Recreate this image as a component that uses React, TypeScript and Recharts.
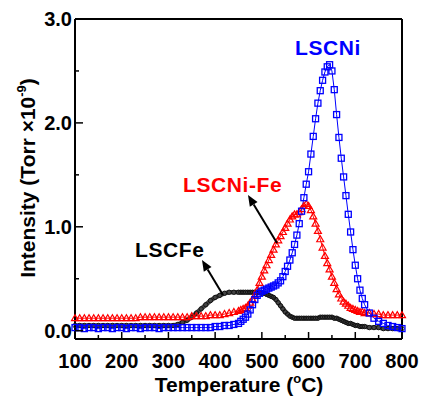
import React from 'react';
import { LineChart, Line, XAxis, YAxis, ReferenceLine } from 'recharts';

// temperature (°C) sample points
const temps = [
  100, 110, 120, 130, 140, 150, 160, 170, 180, 190, 200, 210, 220, 230, 240, 250, 260, 270,
  280, 290, 300, 310, 320, 330, 340, 350, 360, 370, 380, 390, 400, 410, 420, 430, 440, 450,
  455, 460, 465, 470, 475, 480, 485, 490, 495, 500, 505, 510, 515, 520, 525, 530, 535, 540,
  545, 550, 555, 560, 565, 570, 575, 580, 585, 590, 595, 600, 605, 610, 615, 620, 625, 630,
  635, 640, 645, 650, 655, 660, 665, 670, 675, 680, 685, 690, 695, 700, 705, 710, 715, 720,
  730, 740, 750, 760, 770, 780, 790, 800,
];

const lscni = [
  0.03, 0.03, 0.02, 0.03, 0.03, 0.02, 0.03, 0.03, 0.02, 0.03, 0.03, 0.02, 0.03, 0.03, 0.02, 0.03, 0.03, 0.03,
  0.02, 0.03, 0.03, 0.03, 0.03, 0.03, 0.03, 0.03, 0.03, 0.03, 0.03, 0.03, 0.04, 0.04, 0.05, 0.05, 0.06, 0.07,
  0.09, 0.11, 0.13, 0.16, 0.2, 0.25, 0.3, 0.34, 0.36, 0.38, 0.39, 0.4, 0.41, 0.42, 0.43, 0.44, 0.46, 0.48,
  0.52, 0.57, 0.62, 0.68, 0.75, 0.83, 0.92, 1.03, 1.15, 1.28, 1.41, 1.53, 1.7, 1.87, 2.04, 2.19, 2.31, 2.41,
  2.49, 2.54, 2.56, 2.5, 2.32, 2.08, 1.86, 1.66, 1.48, 1.3, 1.12, 0.95, 0.78, 0.63, 0.5, 0.39, 0.31, 0.25,
  0.17, 0.12, 0.09, 0.07, 0.05, 0.04, 0.03, 0.02,
];

const lscniFe = [
  0.12, 0.12, 0.12, 0.12, 0.12, 0.12, 0.12, 0.12, 0.12, 0.12, 0.12, 0.12, 0.12, 0.12, 0.13, 0.13, 0.13, 0.13,
  0.13, 0.13, 0.13, 0.13, 0.13, 0.13, 0.13, 0.14, 0.14, 0.14, 0.14, 0.15, 0.15, 0.15, 0.16, 0.17, 0.18, 0.19,
  0.2, 0.21, 0.22, 0.24, 0.27, 0.3, 0.34, 0.39, 0.46, 0.52, 0.58, 0.63, 0.68, 0.73, 0.78, 0.83, 0.87, 0.91,
  0.95, 0.99, 1.03, 1.07, 1.1, 1.12, 1.12, 1.14, 1.17, 1.2, 1.22, 1.2, 1.16, 1.1, 1.03, 0.96, 0.88, 0.8,
  0.72, 0.65, 0.59, 0.52, 0.46, 0.4, 0.35, 0.31, 0.28, 0.26, 0.24, 0.22, 0.21, 0.2, 0.19, 0.18, 0.18, 0.17,
  0.17, 0.16, 0.16, 0.15, 0.15, 0.15, 0.15, 0.15,
];

const lscfe = [
  0.05, 0.05, 0.05, 0.05, 0.05, 0.05, 0.05, 0.05, 0.05, 0.05, 0.05, 0.05, 0.05, 0.05, 0.05, 0.05, 0.05, 0.05,
  0.05, 0.05, 0.05, 0.05, 0.06, 0.08, 0.1, 0.13, 0.17, 0.21, 0.25, 0.29, 0.32, 0.34, 0.36, 0.37, 0.37, 0.37,
  0.37, 0.37, 0.37, 0.37, 0.37, 0.37, 0.37, 0.37, 0.37, 0.36, 0.36, 0.35, 0.34, 0.33, 0.32, 0.3, 0.27, 0.24,
  0.21, 0.18, 0.16, 0.14, 0.13, 0.12, 0.12, 0.12, 0.12, 0.12, 0.12, 0.12, 0.12, 0.12, 0.12, 0.12, 0.13, 0.13,
  0.13, 0.13, 0.13, 0.13, 0.12, 0.12, 0.11, 0.1, 0.09, 0.08, 0.07, 0.07, 0.06, 0.05, 0.05, 0.04, 0.04, 0.04,
  0.03, 0.03, 0.03, 0.02, 0.02, 0.02, 0.02, 0.02,
];

const xTicks = [100, 150, 200, 250, 300, 350, 400, 450, 500, 550, 600, 650, 700, 750, 800];
const yTicks = [0, 0.5, 1, 1.5, 2, 2.5, 3];

const data = temps.map((t, i) => ({ t, lscni: lscni[i], lscniFe: lscniFe[i], lscfe: lscfe[i] }));

const FONT = '"Liberation Sans", Arial, sans-serif';

const XTick = (props: any) => {
  const { x, y, payload } = props;
  const major = payload.value % 100 === 0;
  return (
    <g>
      <line x1={x} x2={x} y1={y} y2={y - (major ? 7 : 4)} stroke="#000" strokeWidth={1.5} />
      {major && (
        <text x={x} y={y + 29} textAnchor="middle" fontFamily={FONT} fontWeight="bold" fontSize={20} fill="#000">
          {payload.value}
        </text>
      )}
    </g>
  );
};

const YTick = (props: any) => {
  const { x, y, payload } = props;
  const major = Number.isInteger(payload.value);
  return (
    <g>
      <line x1={x} x2={x + (major ? 8 : 4)} y1={y} y2={y} stroke="#000" strokeWidth={1.5} />
      {major && (
        <text x={x - 3} y={y + 7} textAnchor="end" fontFamily={FONT} fontWeight="bold" fontSize={20} fill="#000">
          {payload.value.toFixed(1)}
        </text>
      )}
    </g>
  );
};

const Square = (props: any) => {
  const { cx, cy, index } = props;
  if (cx == null || cy == null) return <g key={index} />;
  return <rect key={index} x={cx - 3} y={cy - 3} width={6} height={6} fill="none" stroke="#0000ff" strokeWidth={1.3} />;
};

const Triangle = (props: any) => {
  const { cx, cy, index } = props;
  if (cx == null || cy == null) return <g key={index} />;
  return (
    <polygon
      key={index}
      points={`${cx},${cy - 3.5} ${cx - 3.5},${cy + 2.5} ${cx + 3.5},${cy + 2.5}`}
      fill="none"
      stroke="#ff0000"
      strokeWidth={1.2}
    />
  );
};

const Circle = (props: any) => {
  const { cx, cy, index } = props;
  if (cx == null || cy == null) return <g key={index} />;
  return <circle key={index} cx={cx} cy={cy} r={2.2} fill="none" stroke="#111" strokeWidth={1} />;
};

const Arrow = ({ x1, y1, x2, y2 }: { x1: number; y1: number; x2: number; y2: number }) => {
  const a = Math.atan2(y2 - y1, x2 - x1);
  const len = 11;
  const w = 4.5;
  const bx = x2 - len * Math.cos(a);
  const by = y2 - len * Math.sin(a);
  const px = -Math.sin(a) * w;
  const py = Math.cos(a) * w;
  return (
    <g>
      <line x1={x1} y1={y1} x2={bx} y2={by} stroke="#000" strokeWidth={2} />
      <polygon points={`${x2},${y2} ${bx + px},${by + py} ${bx - px},${by - py}`} fill="#000" />
    </g>
  );
};

export default function App() {
  return (
    <div style={{ position: 'absolute', left: 0, top: 0, width: 421, height: 399, background: '#fff' }}>
      <LineChart width={421} height={399} data={data} margin={{ top: 19, right: 19, left: 0, bottom: 0 }}>
        <XAxis
          dataKey="t"
          type="number"
          domain={[100, 800]}
          ticks={xTicks}
          interval={0}
          tickSize={0}
          tickMargin={0}
          tick={<XTick />}
          height={60}
          axisLine={{ stroke: '#000', strokeWidth: 2 }}
          tickLine={false}
        />
        <YAxis
          type="number"
          domain={[-0.08, 3]}
          ticks={yTicks}
          interval={0}
          tickSize={0}
          tickMargin={0}
          tick={<YTick />}
          width={75}
          axisLine={{ stroke: '#000', strokeWidth: 2 }}
          tickLine={false}
          allowDataOverflow
        />
        <ReferenceLine y={3} stroke="#000" strokeWidth={2} />
        <ReferenceLine x={800} stroke="#000" strokeWidth={2} />
        <Line dataKey="lscfe" stroke="#444" strokeWidth={4.5} dot={<Circle />} isAnimationActive={false} />
        <Line dataKey="lscniFe" stroke="#ff0000" strokeWidth={1} dot={<Triangle />} isAnimationActive={false} />
        <Line dataKey="lscni" stroke="#0000ff" strokeWidth={1} dot={<Square />} isAnimationActive={false} />
      </LineChart>
      <svg width={421} height={399} style={{ position: 'absolute', left: 0, top: 0, pointerEvents: 'none' }}>
        <g fontFamily={FONT} fontWeight="bold">
          <text x={0} y={0} transform="translate(35,178) rotate(-90)" textAnchor="middle" fontSize={21} fill="#000">
            Intensity (Torr ×10
            <tspan dy={-9} fontSize={13}>-9</tspan>
            <tspan dy={9}>)</tspan>
          </text>
          <text x={239} y={392} textAnchor="middle" fontSize={21} fill="#000">
            Temperature (
            <tspan dy={-9} fontSize={13}>o</tspan>
            <tspan dy={9}>C)</tspan>
          </text>
          <text x={295} y={55} fontSize={21} fill="#0000ff" letterSpacing={0.6}>LSCNi</text>
          <text x={183} y={192} fontSize={21} fill="#ff0000" letterSpacing={0.6}>LSCNi-Fe</text>
          <text x={135} y={257} fontSize={21} fill="#000" letterSpacing={0.6}>LSCFe</text>
        </g>
        <Arrow x1={277} y1={243} x2={248} y2={195} />
        <Arrow x1={223} y1={295} x2={202} y2={260} />
      </svg>
    </div>
  );
}
